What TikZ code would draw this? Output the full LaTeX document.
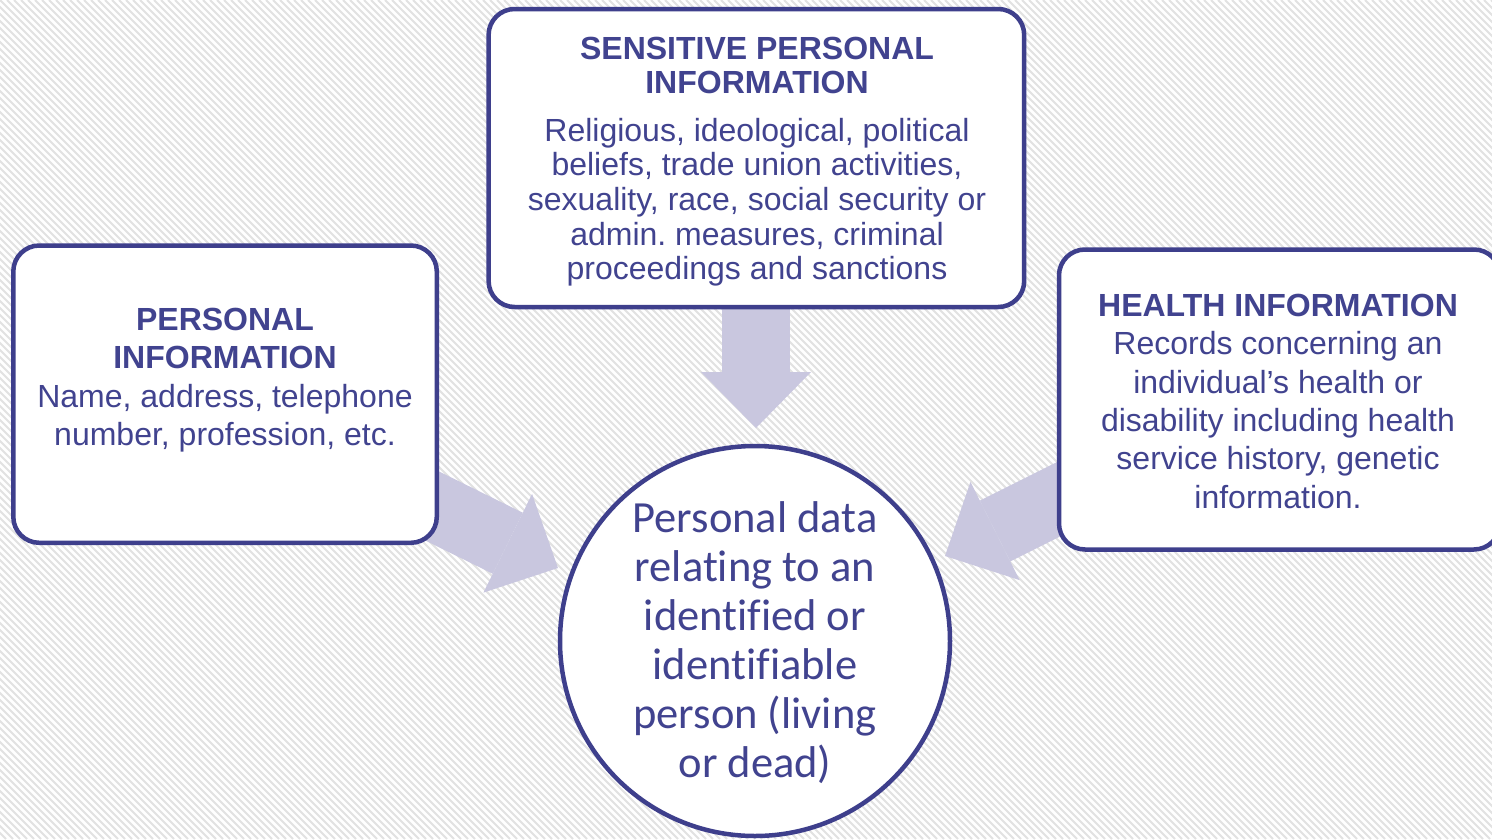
\documentclass[tikz,border=0pt]{standalone}
\usepackage{fontspec}
\setmainfont{Liberation Sans}
\newfontfamily\circfont[Ligatures=NoCommon]{Carlito}
\usetikzlibrary{arrows.meta}
\frenchspacing
\definecolor{navy}{HTML}{3E3F8C}
\definecolor{navytext}{HTML}{41438F}
\definecolor{lav}{HTML}{C9C7DF}
\definecolor{stripe}{HTML}{E2E2E2}
\tikzset{
  boxstyle/.style={draw=navy, line width=4.5pt, fill=white, rounded corners=26pt},
  bigarrow/.style={draw=lav, line width=68pt, -{Triangle[width=110pt,length=56pt,line width=0pt,color=lav]}},
  boxtext/.style={anchor=north, inner sep=0pt, align=center, text=navytext, font=\fontsize{32}{38.3}\selectfont},
  toptext/.style={anchor=north, inner sep=0pt, align=center, text=navytext},
}
\begin{document}
\begin{tikzpicture}[x=1pt,y=-1pt]
\useasboundingbox (0,0) rectangle (1492,839);
\clip (0,0) rectangle (1492,839);
\fill[white] (0,0) rectangle (1492,839);
\foreach \s in {-840,-833,...,1500} {
  \draw[stripe, line width=2pt] (\s,0) -- (\s+839,839);
}
% coordinates for arrows
\coordinate (lstart) at (420,500);
\coordinate (ltip) at (558,568);
\coordinate (rstart) at (1075,491);
\coordinate (rtip) at (945,556);
\coordinate (tstart) at (756,300);
\coordinate (ttip) at (756,428);
\draw[bigarrow] (tstart) -- (ttip);
\draw[bigarrow] (lstart) -- (ltip);
\draw[bigarrow] (rstart) -- (rtip);
% boxes
\draw[boxstyle] (13.3,245.5) rectangle (436.8,542.8);
\draw[boxstyle] (488.6,9) rectangle (1024.2,307);
\draw[boxstyle] (1059,249.5) rectangle (1500,549.5);
\node[draw=navy, line width=4.5pt, fill=white, circle, minimum size=390pt, inner sep=0pt] (centre) at (755,641) {};
% texts
\node[boxtext] (ptext) at (225,308) {\textbf{PERSONAL}\\\textbf{INFORMATION}\\Name, address, telephone\\number, profession, etc.};
\node[toptext, font=\fontsize{32}{34.3}\selectfont\bfseries] (stitle) at (757,37) {SENSITIVE PERSONAL\\INFORMATION};
\node[toptext, font=\fontsize{32}{34.6}\selectfont] (sbody) at (757,118) {Religious, ideological, political\\beliefs, trade union activities,\\sexuality, race, social security or\\admin. measures, criminal\\proceedings and sanctions};
\node[boxtext] (htext) at (1278,294) {\textbf{HEALTH INFORMATION}\\Records concerning an\\individual’s health or\\disability including health\\service history, genetic\\information.};
\node[anchor=north, inner sep=0pt, align=center, text=navytext, font=\circfont\fontsize{44.5}{49}\selectfont] (ctext) at (755,501) {Personal data\\relating to an\\identified or\\identifiable\\person (living\\or dead)};
\end{tikzpicture}
\end{document}
